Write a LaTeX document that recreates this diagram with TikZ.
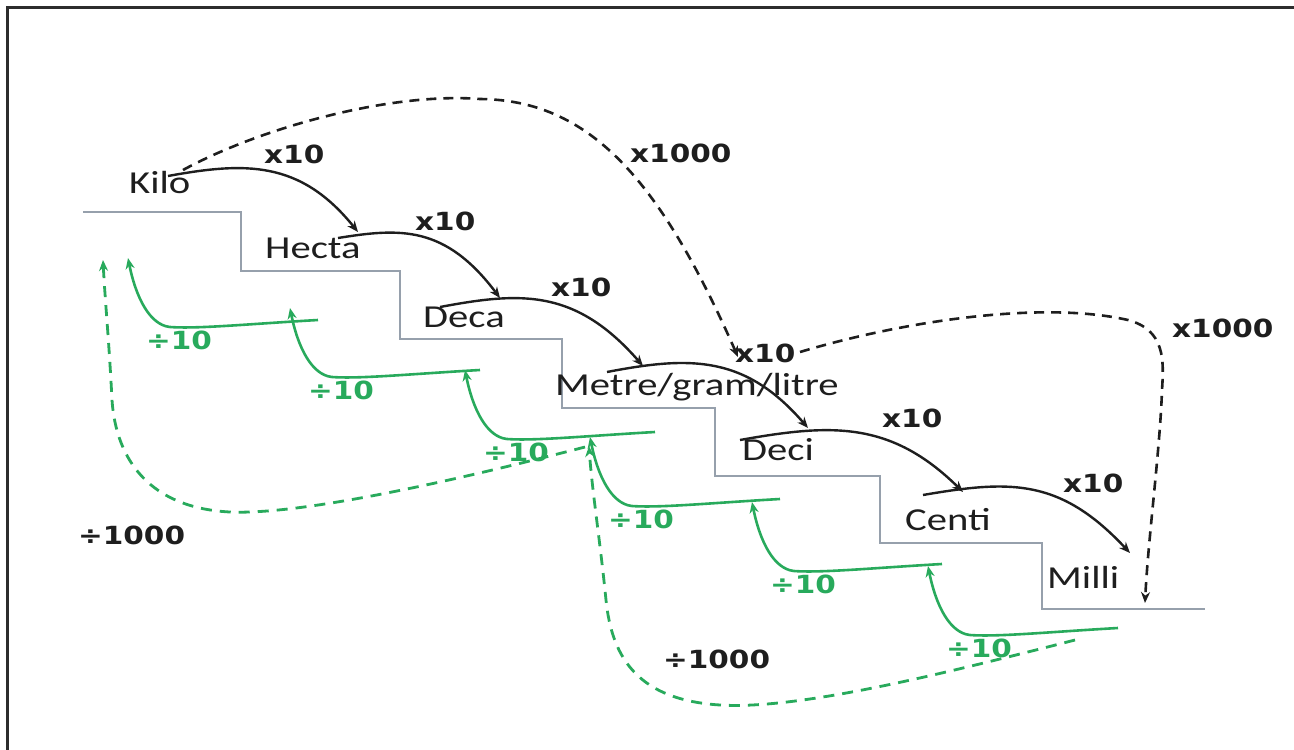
\documentclass[tikz,border=0pt]{standalone}
\usepackage{fontspec}
\setmainfont{Carlito}
\newfontfamily\lblfont{DejaVu Sans}
\usetikzlibrary{arrows.meta,calc}
\definecolor{grn}{RGB}{40,170,92}
\definecolor{stair}{RGB}{150,160,172}
\definecolor{frm}{RGB}{45,45,45}
\definecolor{ink}{RGB}{30,30,30}
\newcommand{\ux}[1]{\scalebox{1.27}[1]{#1}}
\newcommand{\lx}[1]{\scalebox{1.18}[1]{#1}}
\newcommand{\divstep}[3]{%
  \coordinate (#1) at (#2,#3);
  \coordinate (#1s) at ($(#1)+(190,62)$);
  \draw[div] (#1s) .. controls ($(#1)+(120,66)$) and ($(#1)+(70,71)$) .. ($(#1)+(42,69)$)
     .. controls ($(#1)+(22,67)$) and ($(#1)+(8,40)$) .. (#1);
  \node[glbl] (#1l) at ($(#1)+(18,91)$) {\lx{÷10}};
}
\begin{document}
\begin{tikzpicture}[x=1pt,y=-1pt,
  unit/.style={font=\fontsize{32}{38}\selectfont, text=ink, anchor=base west, inner sep=0pt},
  lbl/.style={font=\lblfont\bfseries\fontsize{25}{29}\selectfont, text=ink, anchor=base west, inner sep=0pt},
  glbl/.style={lbl, text=grn},
  mul/.style={draw=ink, line width=2.4pt, -{Stealth[length=11pt,width=9pt]}},
  big/.style={draw=ink, line width=2.6pt, dash pattern=on 10pt off 7pt, -{Stealth[length=11pt,width=9pt]}},
  div/.style={draw=grn, line width=2.6pt, -{Stealth[length=11pt,width=9pt]}},
  gbig/.style={draw=grn, line width=2.8pt, dash pattern=on 11pt off 8pt, -{Stealth[length=11pt,width=9pt]}},
  stairline/.style={draw=stair, line width=1.6pt},
  frame/.style={draw=frm, line width=3pt},
]
\useasboundingbox (0,0) rectangle (1294,750);
\fill[white] (0,0) rectangle (1294,750);
\draw[frame] (7,752) -- (7,7) -- (1296,7);

% staircase
\draw[stairline] (83,212) -- (241,212) -- (241,271) -- (400,271) -- (400,339) -- (562,339)
  -- (562,408) -- (715,408) -- (715,476) -- (880,476) -- (880,543) -- (1042,543)
  -- (1042,609) -- (1205,609);

% unit names
\node[unit] (kilo)  at (129,193) {\ux{Kilo}};
\node[unit] (hecta) at (265,258) {\ux{Hecta}};
\node[unit] (deca)  at (423,327) {\ux{Deca}};
\node[unit] (metre) at (555,395) {\ux{Metre/gram/litre}};
\node[unit] (deci)  at (742,460) {\ux{Deci}};
\node[unit] (centi) at (905,530) {\ux{Centi}};
\node[unit] (milli) at (1047,588) {\ux{Milli}};

% multiply labels
\node[lbl] (m1) at (264,163) {\lx{x10}};
\node[lbl] (m2) at (415,230) {\lx{x10}};
\node[lbl] (m3) at (551,296) {\lx{x10}};
\node[lbl] (m4) at (735,362) {\lx{x10}};
\node[lbl] (m5) at (882,427) {\lx{x10}};
\node[lbl] (m6) at (1063,492) {\lx{x10}};
\node[lbl] (k1) at (630,162) {\lx{x1000}};
\node[lbl] (k2) at (1172,337) {\lx{x1000}};
\node[lbl] (d1) at (78,544) {\lx{÷1000}};
\node[lbl] (d2) at (663,668) {\lx{÷1000}};

% x10 arrows
\coordinate (a1) at (168,176);  \coordinate (b1) at (358,232);
\coordinate (a2) at (338,238);  \coordinate (b2) at (500,298);
\coordinate (a3) at (440,307);  \coordinate (b3) at (643,366);
\coordinate (a4) at (607,372);  \coordinate (b4) at (808,428);
\coordinate (a5) at (740,440);  \coordinate (b5) at (963,492);
\coordinate (a6) at (923,495);  \coordinate (b6) at (1130,553);
\draw[mul] (a1) .. controls (245,162) and (300,160) .. (b1);
\draw[mul] (a2) .. controls (400,228) and (445,225) .. (b2);
\draw[mul] (a3) .. controls (520,292) and (575,288) .. (b3);
\draw[mul] (a4) .. controls (690,356) and (745,355) .. (b4);
\draw[mul] (a5) .. controls (830,424) and (890,420) .. (b5);
\draw[mul] (a6) .. controls (1010,480) and (1060,478) .. (b6);

% x1000 arrows
\coordinate (ka) at (183,170); \coordinate (kb) at (738,357);
\draw[big] (ka) .. controls (260,128) and (390,92) .. (480,99)
  .. controls (590,100) and (660,180) .. (kb);
\coordinate (kc) at (800,352); \coordinate (kd) at (1145,603);
\draw[big] (kc) .. controls (900,322) and (1040,300) .. (1128,320)
  .. controls (1165,330) and (1164,360) .. (1162,390)
  .. controls (1160,450) and (1148,540) .. (kd);

% divide by 10 arrows
\divstep{g1}{128}{258}
\divstep{g2}{290}{308}
\divstep{g3}{465}{370}
\divstep{g4}{590}{437}
\divstep{g5}{752}{502}
\divstep{g6}{928}{566}

% divide by 1000 arrows
\coordinate (ga) at (585,447); \coordinate (gb) at (103,260);
\draw[gbig] (ga) .. controls (450,482) and (300,515) .. (230,512)
  .. controls (150,508) and (116,460) .. (112,400)
  .. controls (109,340) and (105,300) .. (gb);
\coordinate (gc) at (1075,640); \coordinate (gd) at (589,446);
\draw[gbig] (gc) .. controls (950,672) and (800,710) .. (720,705)
  .. controls (640,700) and (612,660) .. (606,600)
  .. controls (600,540) and (592,490) .. (gd);
\end{tikzpicture}
\end{document}
